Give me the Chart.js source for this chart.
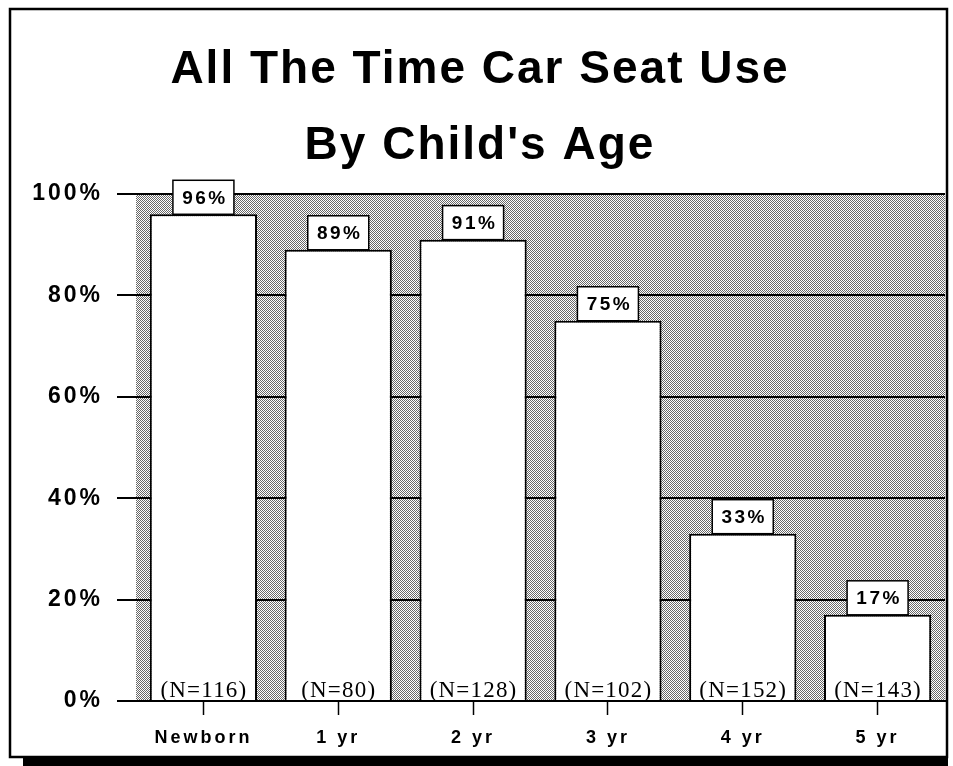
<!DOCTYPE html>
<html>
<head>
<meta charset="utf-8">
<title>All The Time Car Seat Use</title>
<script src="https://cdn.jsdelivr.net/npm/chart.js@4/dist/chart.umd.min.js"></script>
<style>
  html, body { margin: 0; padding: 0; background: #fff; }
  #chart { display: block; }
</style>
</head>
<body>
<canvas id="chart" width="953" height="766"></canvas>
<script>
const titleLines = ['All The Time Car Seat Use', "By Child's Age"];
const categories = ['Newborn', '1 yr', '2 yr', '3 yr', '4 yr', '5 yr'];
const usePercent = [96, 89, 91, 75, 33, 17];
const sampleSizes = [116, 80, 128, 102, 152, 143];
const yTicks = [0, 20, 40, 60, 80, 100];

const SANS = '"Liberation Sans", Arial, Helvetica, sans-serif';
const SERIF = '"Liberation Serif", "Times New Roman", serif';

// small dithered tile used to shade the plot area
function makeDither() {
    const tile = document.createElement('canvas');
    tile.width = 2;
    tile.height = 2;
    const t = tile.getContext('2d');
    t.fillStyle = '#ffffff';
    t.fillRect(0, 0, 2, 2);
    t.fillStyle = '#686868';
    t.fillRect(0, 0, 1, 1);
    t.fillRect(1, 1, 1, 1);
    return tile;
}
const ditherTile = makeDither();

const framePlugin = {
    id: 'frame',
    beforeUpdate(chart) {
        chart.ctx.letterSpacing = '3px';
    },
    beforeDraw(chart) {
        const ctx = chart.ctx;
        const { left, top, right, bottom } = chart.chartArea;

        ctx.save();
        ctx.fillStyle = '#fff';
        ctx.fillRect(0, 0, chart.width, chart.height);

        // box round the whole figure, heavy line underneath
        ctx.strokeStyle = '#000';
        ctx.lineWidth = 2.5;
        ctx.strokeRect(10, 9, 937, 748);
        ctx.fillStyle = '#000';
        ctx.fillRect(23, 757, 925, 9);

        // shaded plot background
        ctx.fillStyle = ctx.createPattern(ditherTile, 'repeat');
        ctx.fillRect(left, top, right - left, bottom - top);

        // title
        ctx.fillStyle = '#000';
        ctx.font = 'bold 46px ' + SANS;
        ctx.letterSpacing = '2px';
        ctx.textAlign = 'center';
        ctx.textBaseline = 'alphabetic';
        ctx.fillText(titleLines[0], 480, 83);
        ctx.fillText(titleLines[1], 480, 159);
        ctx.restore();

        ctx.letterSpacing = '3px';
    },
    afterDatasetsDraw(chart) {
        const ctx = chart.ctx;
        const bars = chart.getDatasetMeta(0).data;
        ctx.save();
        bars.forEach((bar, i) => {
            // value box sitting on top of the bar
            const w = 61, h = 34;
            const bx = bar.x - w / 2;
            const by = bar.y - h;
            ctx.fillStyle = '#fff';
            ctx.fillRect(bx, by, w, h);
            ctx.strokeStyle = '#000';
            ctx.lineWidth = 1.5;
            ctx.strokeRect(bx, by, w, h);

            ctx.fillStyle = '#000';
            ctx.font = 'bold 19px ' + SANS;
            ctx.letterSpacing = '2.5px';
            ctx.textAlign = 'center';
            ctx.textBaseline = 'middle';
            ctx.fillText(usePercent[i] + '%', bar.x + 1.5, by + h / 2 + 1);

            // sample size along the base
            ctx.font = '23px ' + SERIF;
            ctx.letterSpacing = '1.2px';
            ctx.textBaseline = 'alphabetic';
            ctx.fillText('(N=' + sampleSizes[i] + ')', bar.x + 0.5, bar.base - 3);
        });
        ctx.restore();
    }
};

new Chart(document.getElementById('chart'), {
    type: 'bar',
    data: {
        labels: categories,
        datasets: [{
            data: usePercent,
            backgroundColor: '#ffffff',
            borderColor: '#000000',
            borderWidth: 2,
            barPercentage: 0.795,
            categoryPercentage: 1
        }]
    },
    options: {
        responsive: false,
        animation: false,
        layout: { padding: { top: 194, right: 8, left: 0, bottom: 0 } },
        plugins: {
            legend: { display: false },
            title: { display: false },
            tooltip: { enabled: false }
        },
        scales: {
            x: {
                afterFit: scale => { scale.height = 65; },
                grid: {
                    offset: false,
                    drawOnChartArea: false,
                    drawTicks: true,
                    tickLength: 14,
                    tickColor: '#000',
                    tickWidth: 1.5
                },
                border: { display: true, color: '#000', width: 2 },
                ticks: {
                    color: '#000',
                    padding: 12,
                    font: { family: SANS, size: 18, weight: 'bold' }
                }
            },
            y: {
                min: 0,
                max: 100,
                afterFit: scale => { scale.width = 136; },
                afterBuildTicks: scale => {
                    scale.ticks = yTicks.map(v => ({ value: v }));
                },
                grid: {
                    color: '#000',
                    lineWidth: 2,
                    drawTicks: true,
                    tickLength: 19,
                    tickColor: '#000'
                },
                border: { display: false },
                ticks: {
                    color: '#000',
                    padding: 14,
                    font: { family: SANS, size: 23, weight: 'bold' },
                    callback: v => v + '%'
                }
            }
        }
    },
    plugins: [framePlugin]
});
</script>
</body>
</html>
